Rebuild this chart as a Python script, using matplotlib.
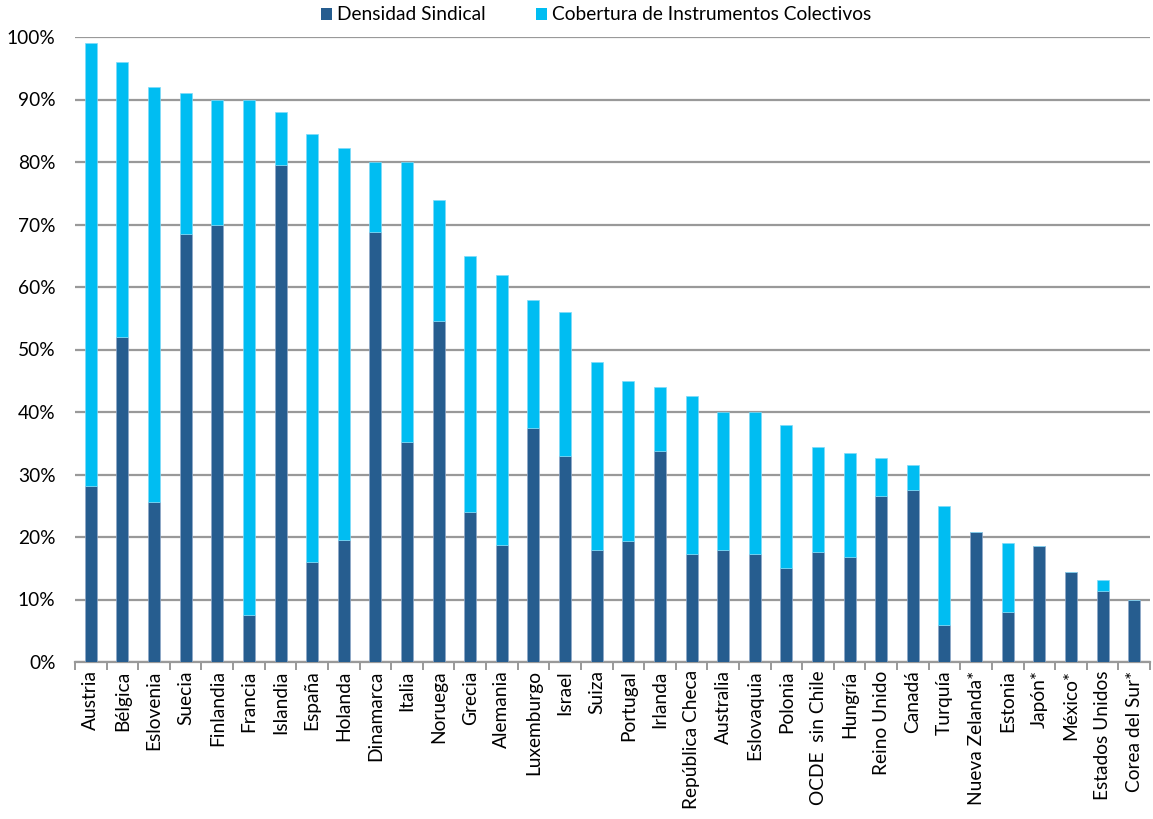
import matplotlib
matplotlib.use("Agg")
import matplotlib.pyplot as plt
import numpy as np
from matplotlib.patches import Patch

countries = ["Austria", "Bélgica", "Eslovenia", "Suecia", "Finlandia", "Francia", "Islandia",
             "España", "Holanda", "Dinamarca", "Italia", "Noruega", "Grecia", "Alemania",
             "Luxemburgo", "Israel", "Suiza", "Portugal", "Irlanda", "República Checa",
             "Australia", "Eslovaquia", "Polonia", "OCDE  sin Chile", "Hungría", "Reino Unido",
             "Canadá", "Turquía", "Nueva Zelanda*", "Estonia", "Japón*", "México*",
             "Estados Unidos", "Corea del Sur*"]
densidad = [28.1, 52.0, 25.6, 68.5, 70.0, 7.6, 79.5, 16.0, 19.5, 68.8, 35.2, 54.5, 24.0, 18.7,
            37.4, 32.9, 17.9, 19.4, 33.7, 17.3, 18.0, 17.3, 15.0, 17.6, 16.8, 26.6,
            27.5, 5.9, 20.8, 8.0, 18.5, 14.4, 11.3, 10.0]
cobertura = [99.0, 96.0, 92.0, 91.0, 90.0, 90.0, 88.0, 84.5, 82.3, 80.0, 80.0, 74.0, 65.0, 62.0,
             58.0, 56.0, 48.0, 45.0, 44.0, 42.5, 40.0, 40.0, 38.0, 34.4, 33.5, 32.7,
             31.6, 25.0, 20.8, 19.0, 18.5, 14.4, 13.1, 10.0]
yticks = [0, 10, 20, 30, 40, 50, 60, 70, 80, 90, 100]

DARK = "#265D8F"
LIGHT = "#00BDF2"
GRID = "#999999"

plt.rcParams['font.family'] = ['Lato', 'DejaVu Sans']
FS = 13.8

fig = plt.figure(figsize=(11.53, 8.19), dpi=100)
ax = fig.add_axes([75/1153, 1-662/819, 1075/1153, 625/819])

x = np.arange(len(countries))
d = np.array(densidad)
c = np.array(cobertura)
extra = np.clip(c - d, 0, None)
w = 0.38
ax.bar(x, d, width=w, color=DARK, edgecolor="#8FA8C8", linewidth=0.5, zorder=3)
ax.bar(x, extra, bottom=d, width=w, color=LIGHT, edgecolor="#7FDBF8", linewidth=0.5, zorder=3)

ax.set_xlim(-0.5, len(countries) - 0.5)
ax.set_ylim(0, 100)
ax.set_yticks(yticks)
ax.set_yticklabels([f"{v}%" for v in yticks], fontsize=FS)
ax.tick_params(axis='y', length=0, pad=14)
for v in yticks:
    ax.axhline(v, color=GRID, linewidth=1.6, zorder=1)

ax.set_xticks(x)
ax.set_xticklabels(countries, rotation=90, fontsize=FS)
ax.tick_params(axis='x', length=0, pad=6)
ax.set_xticks(np.arange(-0.5, len(countries)), minor=True)
ax.tick_params(axis='x', which='minor', length=6, width=1.4, color=GRID)

for s in ["top", "right", "left"]:
    ax.spines[s].set_visible(False)
ax.spines["bottom"].set_color(GRID)
ax.spines["bottom"].set_linewidth(1.6)

handles = [Patch(facecolor=DARK, label="Densidad Sindical"),
           Patch(facecolor=LIGHT, label="Cobertura de Instrumentos Colectivos")]
fig.legend(handles=handles, loc="center", bbox_to_anchor=(596/1153, 1-15/819), ncol=2,
           frameon=False, fontsize=FS, handlelength=0.6, handleheight=0.6,
           handletextpad=0.25, columnspacing=2.6)

fig.savefig("out.png", dpi=100)
